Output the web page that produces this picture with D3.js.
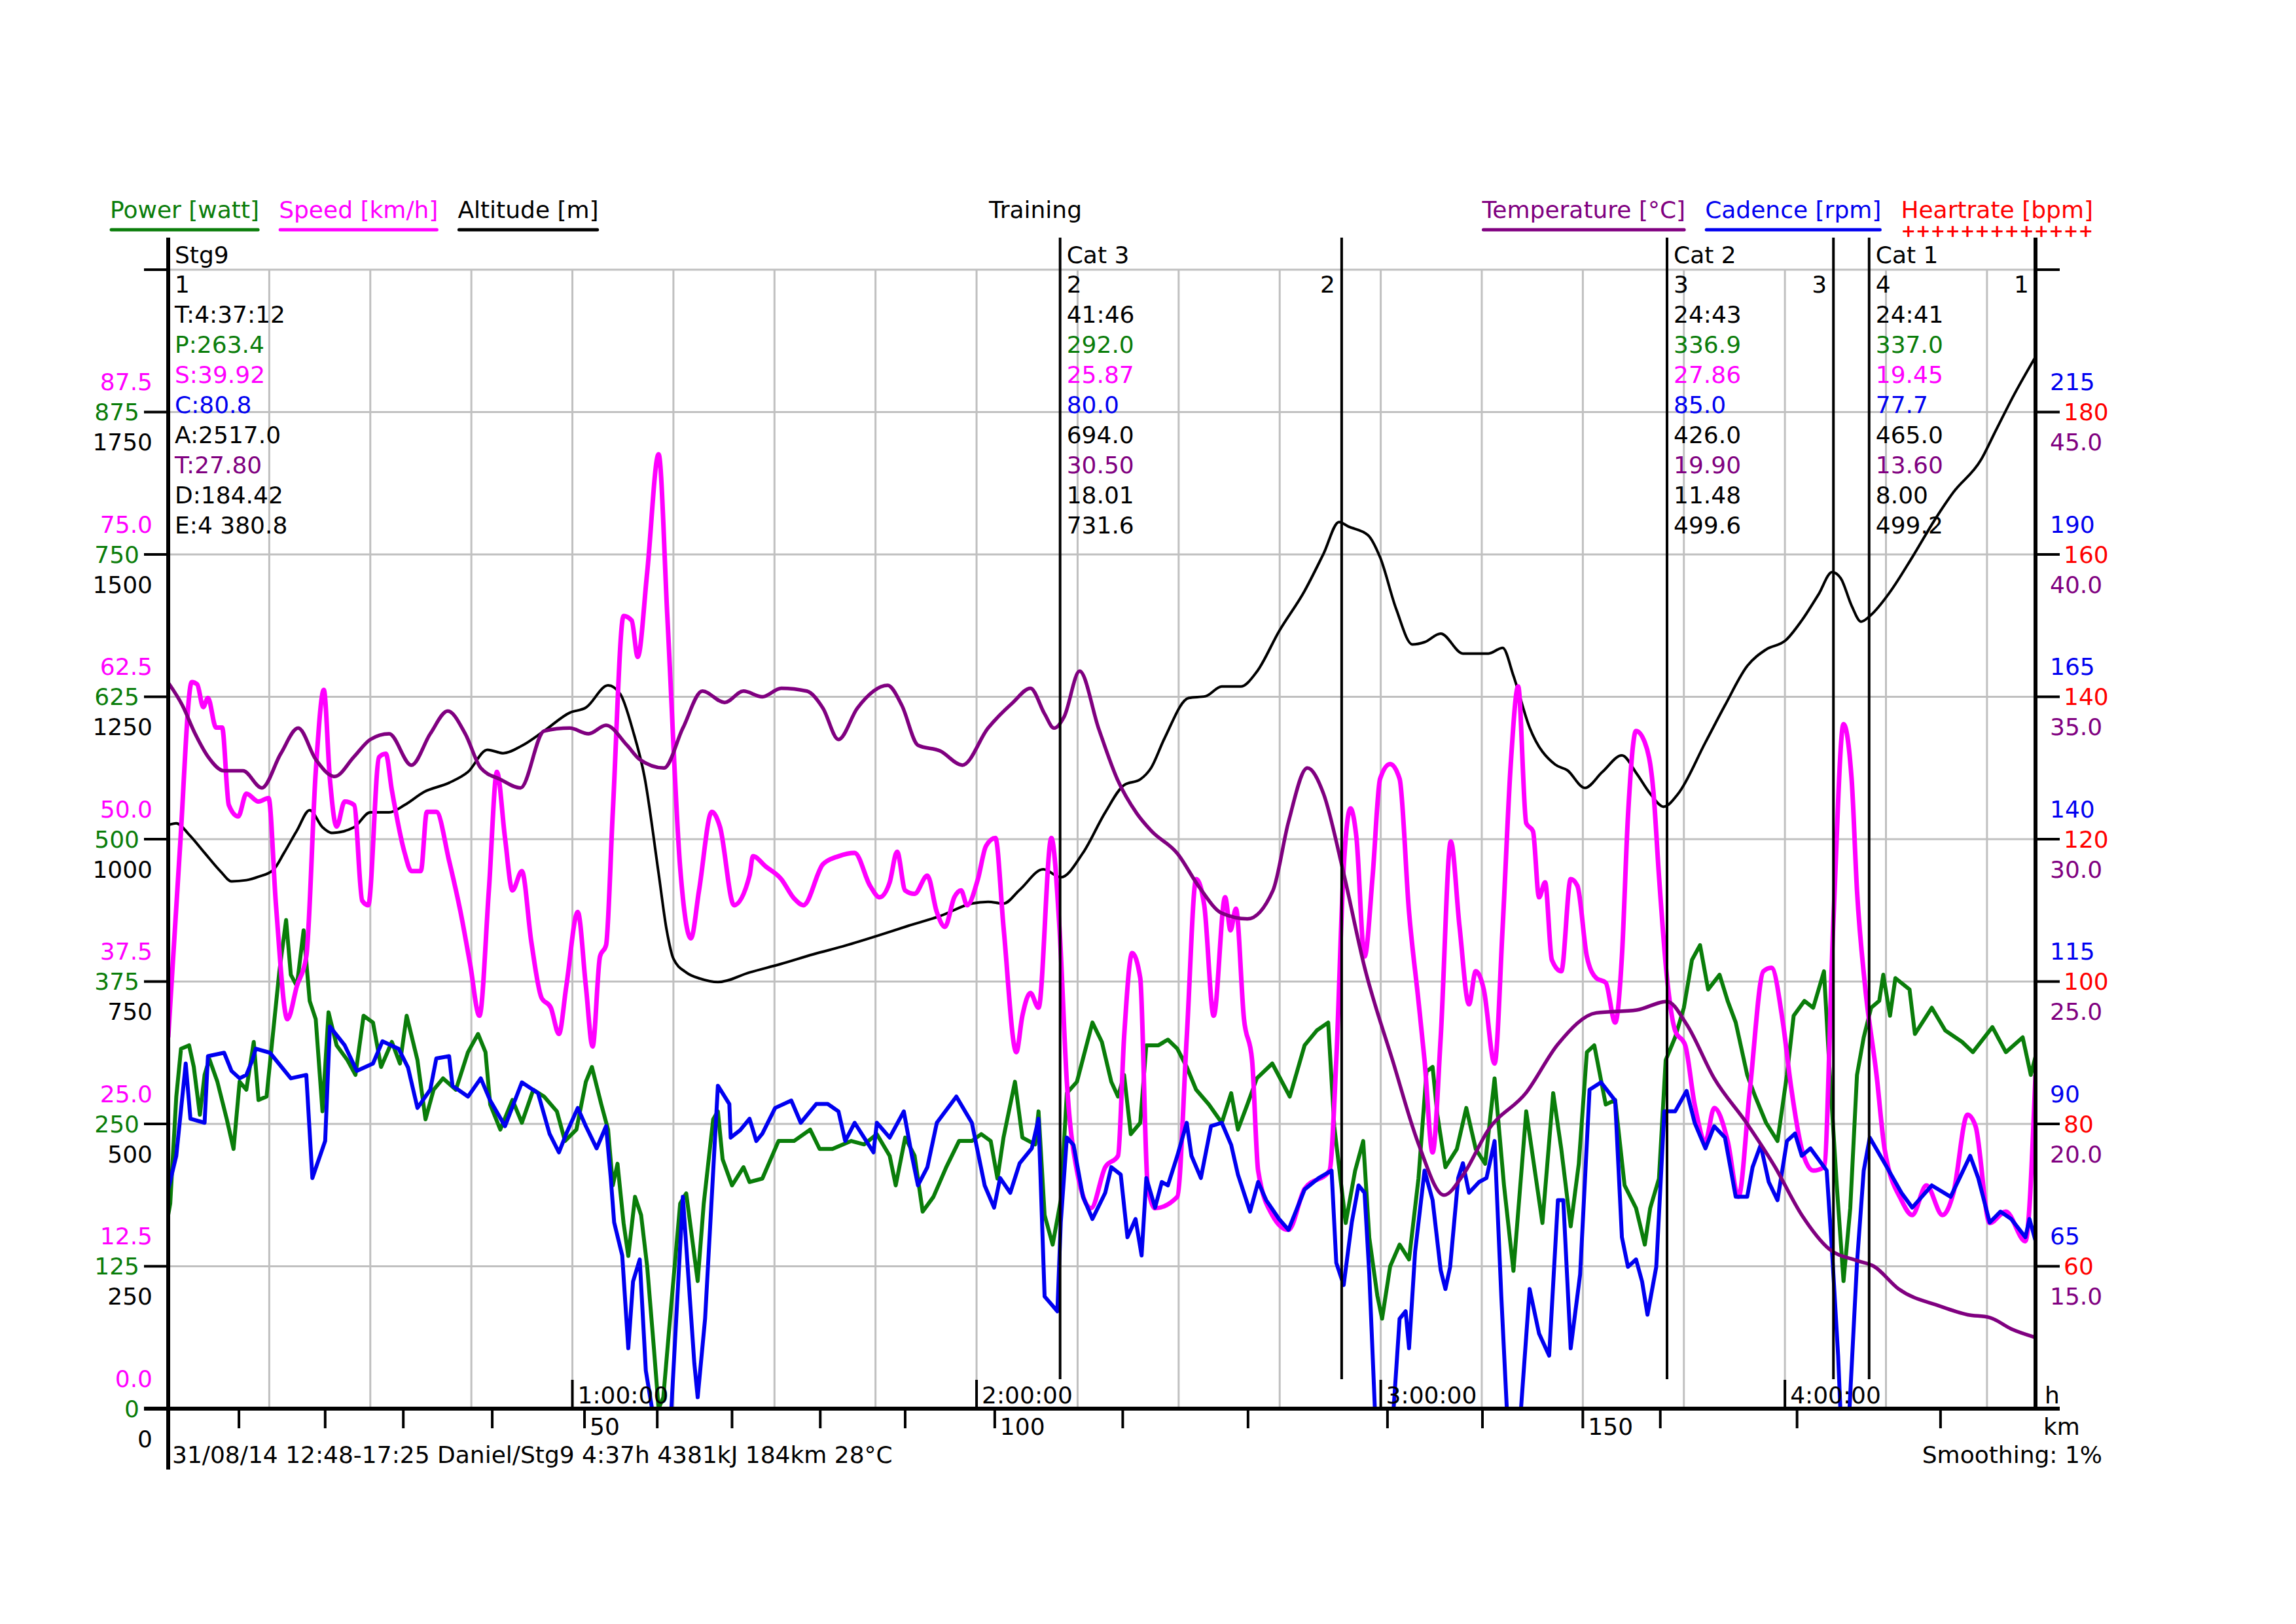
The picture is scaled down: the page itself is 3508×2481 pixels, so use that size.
<!DOCTYPE html>
<html>
<head>
<meta charset="utf-8">
<script src="https://cdn.jsdelivr.net/npm/d3@7"></script>
<style>body{margin:0;background:#fff}</style>
</head>
<body>
<script>
// ---- data (minutes from start, value) ----
const totalMinutes = 277.2;

const altitude = [[0,1025],[1.2,1028],[3.1,1008],[5.4,976],[7.8,943],[9.4,926],[11.6,928],[13.4,934],[15.6,946],[17.2,976],[19.1,1015],[21,1051],[22.9,1021],[24.3,1011],[27.6,1021],[30,1047],[32.8,1047],[35.1,1060],[38,1083],[41.7,1099],[44.5,1118],[47.4,1157],[49.7,1151],[52.5,1164],[55.8,1190],[59.6,1222],[62,1231],[65.3,1270],[67.1,1255],[69,1190],[70.7,1110],[72.8,940],[74,840],[75,790],[76.9,766],[79,755],[81.6,749],[86.3,766],[91,781],[95.8,798],[100.5,813],[105.2,830],[109.9,848],[114.6,865],[119.3,887],[121.7,890],[124,887],[126.4,911],[129.9,947],[132.5,933],[135.8,976],[139.1,1047],[141.9,1095],[144.3,1105],[145.9,1125],[147.9,1177],[151.5,1248],[154,1251],[156.4,1268],[159.2,1268],[161.6,1294],[164.9,1365],[168.7,1436],[171.5,1501],[173.8,1557],[175.2,1549],[178.1,1534],[179.9,1495],[182.3,1404],[184.7,1342],[186.5,1346],[188.9,1361],[192.2,1326],[196,1326],[198.1,1336],[199.7,1287],[202.1,1196],[205.9,1131],[207.7,1121],[210.3,1090],[212.9,1118],[215.8,1147],[218,1115],[220,1080],[222,1057],[224.1,1079],[228.2,1170],[231.1,1235],[234.4,1304],[237.2,1333],[240.1,1349],[242.5,1384],[245,1430],[247,1469],[248.3,1458],[249.9,1410],[251.3,1382],[252.8,1394],[255.6,1434],[258.9,1495],[262.2,1560],[265,1609],[269.1,1666],[271.2,1715],[274,1780],[277.2,1847]];

const temperature = [[0,35.5],[2.1,34.7],[4,33.7],[5.9,32.9],[8.3,32.4],[11.1,32.4],[13.9,31.8],[16.7,33.0],[19.3,33.9],[21.9,32.8],[24.7,32.2],[27.6,32.9],[30,33.5],[32.8,33.7],[36.1,32.6],[38.9,33.7],[41.5,34.5],[44.1,33.7],[46.4,32.5],[49.3,32.1],[52.3,31.8],[55.8,33.8],[59.6,33.9],[62.4,33.7],[65,34.0],[68.1,33.3],[70,32.8],[73.6,32.5],[76.4,33.9],[79.3,35.2],[82.6,34.8],[85.4,35.2],[88.2,35.0],[91,35.3],[94.8,35.2],[97.2,34.6],[99.5,33.5],[102.3,34.6],[106.8,35.4],[108.9,34.7],[111.3,33.3],[114.6,33.1],[117.9,32.6],[121.7,33.9],[125.4,34.8],[128,35.3],[130.1,34.4],[131.5,33.9],[133,34.3],[135.3,35.9],[138.1,33.9],[140.9,32.1],[143.8,30.9],[145.9,30.3],[149.8,29.5],[153.1,28.3],[156.4,27.4],[160.2,27.2],[164,28.2],[166.3,30.6],[169.1,32.5],[171.5,31.6],[174.3,29.0],[177.6,25.5],[181.8,22.2],[185.6,19.3],[189.4,17.5],[192.2,18.2],[196,19.8],[201.6,21.1],[206.3,22.8],[212,23.9],[218,24.0],[222.5,24.3],[225.4,23.5],[229.5,21.6],[234.4,20.0],[238.5,18.5],[242.5,16.8],[246.6,15.6],[250.7,15.2],[253.2,15.0],[256.9,14.2],[263,13.6],[267.1,13.3],[270.4,13.2],[273.6,12.8],[277.2,12.5]];

const speed = [[0,32.6],[1.7,48.8],[3.5,63.8],[4.3,63.6],[5.2,61.6],[5.9,62.4],[7.1,59.8],[8,59.8],[9,53],[10.4,52],[11.6,54],[13.4,53.3],[14.9,53.6],[16,44.2],[17.7,34.2],[19.1,37.1],[20.5,39.7],[21.9,55.9],[23.1,63.1],[24,55.3],[25,51.1],[26.2,53.3],[27.6,53],[28.8,44.6],[29.7,44.2],[31.3,57.2],[32.3,57.5],[33.2,54.3],[35.1,48.8],[36.1,47.2],[37.5,47.2],[38.4,52.4],[39.8,52.4],[41.7,48.1],[43.4,43.6],[44.8,39.1],[46.2,34.5],[47.6,45.5],[48.8,55.9],[50,50.1],[51.1,45.5],[52.5,47.2],[53.9,41],[55.4,36.1],[56.8,35.2],[58,32.9],[59.1,37.1],[60.8,43.6],[62,37.1],[63,31.8],[64.1,39.7],[65,40.7],[66,52.4],[67.6,69.6],[68.8,69.2],[69.7,66],[71.1,73.4],[72.8,83.8],[74.1,69.5],[76,47.5],[77.6,41.3],[78.8,45.5],[80.7,52.4],[81.9,51.1],[84,44.2],[86.3,46.8],[86.8,48.5],[88.7,47.6],[91,46.5],[92.9,44.8],[94.3,44.2],[97.2,47.8],[99.5,48.5],[101.9,48.8],[104.2,45.9],[105.6,44.9],[107.1,46.2],[108.2,48.9],[109.4,45.5],[110.8,45.2],[112.7,46.8],[114.1,43.6],[115.3,42.3],[116.7,44.9],[117.7,45.5],[118.6,44.2],[120.2,46.5],[121.4,49.4],[122.8,50.1],[124,42.3],[125.9,31.3],[126.8,34.5],[128,36.5],[129.2,35.2],[131.1,50.1],[132.3,42.3],[133.4,28.7],[134.9,20.9],[137,17.6],[139.1,21.2],[141,22.2],[141.9,32.6],[143.1,40],[144.3,37.8],[145.4,19.6],[146.5,17.6],[149.8,18.6],[151.2,32.6],[152.6,46.5],[153.8,44.2],[155.2,34.5],[156.9,44.9],[157.7,42],[158.5,43.9],[159.7,34.2],[160.9,30.6],[161.8,20.9],[163.9,17],[166.3,15.7],[168.7,19.3],[172.4,20.9],[173.4,30.6],[174.5,47.5],[175.5,52.7],[176.4,50.1],[177.6,39.7],[178.8,46.8],[179.9,55.3],[181.4,56.6],[182.8,55.3],[184.2,43.6],[185.6,35.8],[186.5,30.6],[187.7,22.5],[188.9,32.6],[190.4,49.8],[191.7,42.3],[193.1,35.5],[194.1,38.4],[195.3,36.8],[196.9,30.3],[198.1,42.3],[199.3,56.6],[200.4,63.4],[201.6,51.4],[202.6,50.7],[203.5,44.9],[204.4,46.2],[205.4,39.4],[206.8,38.4],[208.2,46.5],[209.2,45.9],[210.6,39.7],[212,37.8],[213.4,37.4],[214.8,33.9],[215.8,39.7],[216.7,52],[217.9,59.5],[219.2,58.5],[220.5,54],[221.3,46.8],[222.5,37.8],[223.7,33.2],[225.2,31.9],[226.6,26.7],[228.2,23.5],[229.5,26.4],[231.5,23.5],[233.1,18.6],[234.8,28],[236.8,38.4],[238,38.7],[239.7,33.9],[240.9,28.3],[242.5,22.8],[244.2,20.9],[245.8,21.2],[247.2,42.9],[248.7,60.1],[249.9,55.3],[250.7,45.5],[251.9,37.1],[253.6,29.3],[254.8,22.8],[257.3,18.3],[258.9,17],[261,19.6],[263.4,17],[265,18.9],[267.1,25.8],[268.3,24.8],[270.4,16.3],[272.8,17.3],[275.7,14.7],[277.2,29.3]];

const cadence = [[0,78.5],[1.2,84.4],[2.6,100.6],[3.3,90.9],[5.4,90.2],[5.9,101.9],[8.3,102.5],[9.4,99.3],[10.6,98],[11.6,98.6],[12.5,101.2],[13,103.2],[15.1,102.5],[18.2,98],[20.5,98.6],[21.4,80.5],[23.3,87],[24,107.1],[26.2,103.8],[28,99.3],[30.4,100.6],[31.8,104.5],[34.2,103.2],[35.6,99.9],[37,92.8],[38.9,96],[39.8,101.5],[41.7,101.9],[42.2,96.7],[44.5,94.8],[46.4,98],[47.8,94.1],[50,89.6],[52.5,97.3],[54.9,95.4],[56.6,88.3],[58,85],[59.1,88.3],[60.8,92.8],[62,89.6],[63.6,85.7],[65,89.6],[65.7,80.5],[66.2,72.7],[67.4,66.9],[68.3,50.6],[69,62.3],[70,66.2],[70.9,46.7],[72.1,38],[74.6,38],[76.4,77.2],[78.1,48],[78.6,42],[79.7,55.8],[81.6,96.7],[83.3,93.5],[83.5,87.6],[84.9,88.9],[86.3,90.9],[87.3,87],[88.2,88.3],[90.1,92.8],[92.5,94.1],[93.9,90.2],[96.2,93.5],[97.9,93.5],[99.5,92.2],[100.5,87],[101.9,90.2],[103.3,87.6],[104.7,85],[105.2,90.2],[107.1,87.6],[109.2,92.2],[110.4,84.4],[111.3,79.2],[112.7,82.4],[114.1,90.2],[117,94.8],[119.3,90.2],[121.2,79.2],[122.6,75.3],[123.5,80.5],[125,77.9],[126.4,83.1],[128.2,85.7],[129.2,90.9],[130.1,59.7],[132,57.1],[132.5,72.7],[133.4,87.6],[134.4,86.3],[135.8,77.2],[137.2,73.3],[139.1,77.9],[140,82.4],[141.4,81.1],[142.4,70.1],[143.6,73.3],[144.5,66.9],[145.2,80.5],[146.5,75.3],[147.5,79.8],[148.4,79.2],[149.8,84.4],[151.2,90.2],[151.9,84.4],[153.3,80.5],[154.8,89.6],[156.4,90.2],[157.8,86.3],[158.8,81.1],[160.6,74.6],[161.8,79.8],[163,76.6],[164.9,73.3],[166.3,71.4],[168.7,78.5],[170.8,80.5],[172.7,81.8],[173.4,65.6],[174.5,61.7],[175.7,72.7],[176.7,79.2],[177.6,77.9],[178.3,63.6],[179.2,38],[181.8,38],[182.8,55.8],[183.7,57.1],[184.2,50.6],[185.1,67.5],[186.5,81.8],[187.7,76.6],[188.9,64.3],[189.6,61],[190.3,64.9],[191.5,80.5],[192.2,83.1],[193.1,77.9],[194.6,79.8],[195.7,80.5],[196.9,87],[197.9,59.7],[198.8,38],[200.7,38],[202.1,61],[203.5,53.2],[205,49.3],[206.3,76.6],[207.1,76.6],[208.2,50.6],[209.6,63.6],[211,96],[212.7,97.3],[214.8,94.1],[215.8,70.1],[216.7,64.9],[217.9,66.2],[218.8,62.3],[219.6,56.5],[220.9,64.9],[222.1,92.2],[223.7,92.2],[225.4,95.8],[226.6,90.2],[228.2,85.7],[229.5,89.6],[231.1,87.6],[232.7,77.2],[234.4,77.2],[235.2,82.4],[236.4,86.3],[237.6,79.8],[238.9,76.6],[240.3,87],[241.5,88.3],[242.5,84.4],[243.8,85.7],[246.2,81.8],[247,67.5],[247.9,49.3],[248.3,38],[249.5,38],[250.7,65.6],[251.7,81.8],[252.6,87.6],[254.8,83.1],[257.3,77.9],[258.9,75.3],[261.8,79.2],[264.6,77.2],[267.5,84.4],[268.7,80.5],[270.4,72.7],[272,74.6],[273.6,73.3],[275.7,70.1],[276.3,73.3],[277.2,69.5]];

const power = [[0,170],[0.3,180],[1.2,274],[1.9,316],[3.1,319],[3.8,300],[4.7,258],[5.4,293],[6.1,307],[7.3,287],[8.7,254],[9.7,228],[10.6,287],[11.6,280],[12.7,322],[13.4,271],[14.6,274],[15.6,332],[16.5,384],[17.5,429],[18.2,381],[19.1,371],[20.1,420],[21,358],[21.9,342],[22.9,261],[23.8,348],[25,319],[26.6,306],[27.8,293],[29,345],[30.4,339],[31.6,300],[33.2,322],[34.4,303],[35.4,345],[37,306],[38.2,254],[39.4,280],[40.8,290],[42.7,280],[44.5,313],[46,329],[47.1,313],[47.8,267],[49.3,245],[51.1,271],[52.5,251],[54.2,280],[55.8,274],[57.7,261],[58.9,235],[60.6,245],[62,287],[62.9,300],[64.3,267],[65.3,245],[66,196],[66.7,215],[67.6,163],[68.3,134],[69.3,186],[70.2,170],[71.1,125],[72.1,53],[72.8,0],[73.5,10],[74.6,86],[76,180],[76.9,189],[78.6,112],[79.5,180],[80.9,254],[81.6,261],[82.3,219],[83.7,196],[85.4,212],[86.3,199],[88.2,202],[90.6,235],[92.9,235],[95.3,245],[96.7,228],[98.6,228],[101.4,235],[103.3,232],[105.2,241],[107.1,222],[108,196],[109.4,238],[110.8,222],[112,173],[113.6,186],[115.5,212],[117.4,235],[119.3,235],[120.7,241],[122.1,235],[123.1,202],[124,238],[125.7,287],[126.8,238],[128.7,232],[129.2,261],[130.1,170],[131.3,144],[132.5,183],[133.4,277],[134.9,287],[137.2,339],[138.6,322],[140,287],[141,274],[141.9,293],[142.9,241],[144.3,251],[145.2,319],[147,319],[148.4,324],[149.8,316],[151.2,300],[152.6,280],[154.5,267],[156.4,251],[157.8,277],[158.8,245],[160.2,267],[161.6,290],[163.9,303],[166.5,274],[168.7,319],[170.5,332],[172.2,339],[173.1,248],[174.8,163],[176.2,209],[177.4,235],[178.3,150],[179.5,99],[180.2,79],[181.4,125],[182.8,144],[184.2,131],[185.6,202],[186.8,296],[187.7,300],[188.4,258],[189.6,212],[191.3,228],[192.7,264],[194.1,228],[195.5,215],[196.9,290],[198.3,196],[199.7,121],[201.6,261],[204,163],[205.6,277],[206.8,228],[208.2,160],[209.4,215],[210.6,313],[211.7,319],[213.4,267],[214.8,271],[216.2,196],[217.9,176],[219.2,144],[220,176],[221.3,202],[222.3,306],[223.7,326],[225,352],[226.2,394],[227.4,407],[228.6,368],[230.3,381],[231.5,358],[232.7,339],[234.4,293],[235.6,274],[237.2,251],[238.9,235],[240.3,293],[241.3,345],[242.9,358],[244.2,352],[245.8,384],[246.6,300],[247.7,196],[248.7,112],[249.7,176],[250.7,293],[251.7,326],[252.8,352],[254,358],[254.6,381],[255.6,345],[256.4,378],[258.5,368],[259.3,329],[261.8,352],[263.8,332],[266.3,322],[267.9,313],[270.8,335],[272.8,313],[275.3,326],[276.5,293],[277.2,309]];

// axis tick labels
const powerTicks = [0,125,250,375,500,625,750,875];
const speedTicks = [0,12.5,25,37.5,50,62.5,75,87.5];
const altTicks = [0,250,500,750,1000,1250,1500,1750];
const cadenceTicks = [65,90,115,140,165,190,215];
const hrTicks = [60,80,100,120,140,160,180];
const tempTicks = [15,20,25,30,35,40,45];

const timeTicks = [60,120,180,240];
const timeLabels = ["1:00:00","2:00:00","3:00:00","4:00:00"];
const kmValues = [10,20,30,40,50,60,70,80,90,100,110,120,130,140,150,160,170,180];
const kmMinutes = [10.5,23.3,34.9,48.1,61.8,72.6,83.7,96.8,109.4,122.7,141.7,160.3,181.0,195.1,210.0,221.5,241.8,263.1];
const kmLabelled = [50,100,150];

// laps: start minute, end minute, name, stats
const lapStart = [0,132.4,222.5,252.5];
const lapEnd = [277.2,174.2,247.2,277.2];
const lapNames = ["Stg9","Cat 3","Cat 2","Cat 1"];
const lapStats = [
  ["1","T:4:37:12","P:263.4","S:39.92","C:80.8","A:2517.0","T:27.80","D:184.42","E:4 380.8"],
  ["2","41:46","292.0","25.87","80.0","694.0","30.50","18.01","731.6"],
  ["3","24:43","336.9","27.86","85.0","426.0","19.90","11.48","499.6"],
  ["4","24:41","337.0","19.45","77.7","465.0","13.60","8.00","499.2"]
];
const lapEndLabels = ["1","2","3",""];

const cGreen = "#0a7d0a", cMagenta = "#f0f", cBlue = "#0000f0", cPurple = "#800080", cRed = "#f00", cGrid = "#c0c0c0";
const statColors = ["#000","#000",cGreen,cMagenta,cBlue,"#000",cPurple,"#000","#000"];

// ---- layout ----
const W = 3508, H = 2481;
const plotL = 257, plotR = 3110, plotT = 412, plotB = 2152;
const fs = 36, lh = 46;

const svg = d3.select("body").append("svg")
  .attr("width", W).attr("height", H)
  .style("background-color", "#fff")
  .attr("font-family", "DejaVu Sans")
  .attr("font-size", fs);

const x = d3.scaleLinear().domain([0, totalMinutes]).range([plotL, plotR]);
const yPower = d3.scaleLinear().domain([0, 1000]).range([plotB, plotT]);
const ySpeed = d3.scaleLinear().domain([0, 100]).range([plotB, plotT]);
const yAlt = d3.scaleLinear().domain([0, 2000]).range([plotB, plotT]);
const yCad = d3.scaleLinear().domain([40, 240]).range([plotB, plotT]);
const yHr = d3.scaleLinear().domain([40, 200]).range([plotB, plotT]);
const yTemp = d3.scaleLinear().domain([10, 50]).range([plotB, plotT]);

// gridlines
const hGrid = [125,250,375,500,625,750,875,1000];
svg.append("g").selectAll("line").data(hGrid).enter().append("line")
  .attr("x1", plotL).attr("x2", plotR)
  .attr("y1", d => yPower(d)).attr("y2", d => yPower(d))
  .attr("stroke", cGrid).attr("stroke-width", 3);

svg.append("g").selectAll("line").data(d3.range(15, totalMinutes, 15)).enter().append("line")
  .attr("x1", d => x(d)).attr("x2", d => x(d))
  .attr("y1", plotT).attr("y2", plotB)
  .attr("stroke", cGrid).attr("stroke-width", 3);

// clip
svg.append("clipPath").attr("id", "plot")
  .append("rect").attr("x", plotL).attr("y", plotT - 30).attr("width", plotR - plotL).attr("height", plotB - plotT + 30);

const series = [
  {data: altitude, y: yAlt, color: "#000", w: 4, curve: d3.curveMonotoneX},
  {data: power, y: yPower, color: cGreen, w: 6, curve: d3.curveLinear},
  {data: speed, y: ySpeed, color: cMagenta, w: 7, curve: d3.curveMonotoneX},
  {data: cadence, y: yCad, color: cBlue, w: 6, curve: d3.curveLinear},
  {data: temperature, y: yTemp, color: cPurple, w: 5.5, curve: d3.curveMonotoneX}
];
const gLines = svg.append("g").attr("clip-path", "url(#plot)");
series.forEach(s => {
  const line = d3.line().x(d => x(d[0])).y(d => s.y(d[1])).curve(s.curve);
  gLines.append("path")
    .attr("d", line(s.data))
    .attr("fill", "none")
    .attr("stroke", s.color)
    .attr("stroke-width", s.w)
    .attr("stroke-linejoin", "round");
});

// lap lines
const lapTop = 363, lapBottom = 2107;
lapStart.concat(lapEnd).forEach(t => {
  if (t <= 0 || t >= totalMinutes) return;
  svg.append("line").attr("x1", x(t)).attr("x2", x(t)).attr("y1", lapTop).attr("y2", lapBottom)
    .attr("stroke", "#000").attr("stroke-width", 4);
});

// lap texts
lapStart.forEach((t, i) => {
  const tx = x(t) + 10;
  svg.append("text").attr("x", tx).attr("y", 402).text(lapNames[i]);
  lapStats[i].forEach((s, j) => {
    svg.append("text").attr("x", tx).attr("y", 447 + j * lh)
      .attr("fill", statColors[j]).text(s);
  });
});
lapEnd.forEach((t, i) => {
  if (!lapEndLabels[i]) return;
  svg.append("text").attr("x", x(t) - 10).attr("y", 447)
    .attr("text-anchor", "end").text(lapEndLabels[i]);
});

// axes lines
svg.append("line").attr("x1", plotL).attr("x2", plotL).attr("y1", lapTop).attr("y2", 2245)
  .attr("stroke", "#000").attr("stroke-width", 6);
svg.append("line").attr("x1", plotR).attr("x2", plotR).attr("y1", lapTop).attr("y2", plotB)
  .attr("stroke", "#000").attr("stroke-width", 6);
svg.append("line").attr("x1", plotL - 37).attr("x2", plotR + 37).attr("y1", plotB).attr("y2", plotB)
  .attr("stroke", "#000").attr("stroke-width", 6);

// ticks
svg.append("g").selectAll("line").data(hGrid).enter().append("line")
  .attr("x1", plotL - 37).attr("x2", plotL).attr("y1", d => yPower(d)).attr("y2", d => yPower(d))
  .attr("stroke", "#000").attr("stroke-width", 4);
svg.append("g").selectAll("line").data(hGrid).enter().append("line")
  .attr("x1", plotR).attr("x2", plotR + 37).attr("y1", d => yPower(d)).attr("y2", d => yPower(d))
  .attr("stroke", "#000").attr("stroke-width", 4);

const lab = (g, data, xpos, ypos, anchor, color, fmt) => {
  g.selectAll(null).data(data).enter().append("text")
    .attr("x", xpos).attr("y", ypos).attr("dy", "0.36em")
    .attr("text-anchor", anchor).attr("fill", color).text(fmt);
};
const gl = svg.append("g");
lab(gl, powerTicks, plotL - 44, d => yPower(d), "end", cGreen, d => d);
lab(gl, speedTicks, plotL - 24, d => ySpeed(d) - lh, "end", cMagenta, d => d.toFixed(1));
lab(gl, altTicks, plotL - 24, d => yAlt(d) + lh, "end", "#000", d => d);
const gr = svg.append("g");
lab(gr, hrTicks, plotR + 43, d => yHr(d), "start", cRed, d => d);
lab(gr, cadenceTicks, plotR + 22, d => yCad(d) - lh, "start", cBlue, d => d);
lab(gr, tempTicks, plotR + 22, d => yTemp(d) + lh, "start", cPurple, d => d.toFixed(1));

// time ticks
svg.append("g").selectAll("line").data(timeTicks).enter().append("line")
  .attr("x1", d => x(d)).attr("x2", d => x(d)).attr("y1", plotB - 44).attr("y2", plotB)
  .attr("stroke", "#000").attr("stroke-width", 4);
svg.append("g").selectAll("text").data(timeTicks).enter().append("text")
  .attr("x", d => x(d) + 8).attr("y", plotB - 8).text((d, i) => timeLabels[i]);
svg.append("text").attr("x", plotR + 14).attr("y", plotB - 8).text("h");

// km ticks
svg.append("g").selectAll("line").data(kmMinutes).enter().append("line")
  .attr("x1", d => x(d)).attr("x2", d => x(d)).attr("y1", plotB).attr("y2", plotB + 30)
  .attr("stroke", "#000").attr("stroke-width", 4);
svg.append("g").selectAll("text").data(kmValues.filter(k => kmLabelled.includes(k))).enter().append("text")
  .attr("x", d => x(kmMinutes[kmValues.indexOf(d)]) + 8).attr("y", plotB + 40).text(d => d);
svg.append("text").attr("x", plotR + 12).attr("y", plotB + 40).text("km");

// footer
svg.append("text").attr("x", plotL + 6).attr("y", 2235)
  .text("31/08/14 12:48-17:25 Daniel/Stg9 4:37h 4381kJ 184km 28°C");
svg.append("text").attr("x", 3212).attr("y", 2235).attr("text-anchor", "end").text("Smoothing: 1%");

// header legend
const headY = 333, underY = 351;
let hx = 168;
[["Power [watt]", cGreen], ["Speed [km/h]", cMagenta], ["Altitude [m]", "#000"]].forEach(([t, c]) => {
  const el = svg.append("text").attr("x", hx).attr("y", headY).attr("fill", c).text(t);
  const w = el.node().getComputedTextLength();
  svg.append("line").attr("x1", hx + 2).attr("x2", hx + w - 2).attr("y1", underY).attr("y2", underY)
    .attr("stroke", c).attr("stroke-width", 5).attr("stroke-linecap", "round");
  hx += w + 30;
});
svg.append("text").attr("x", 1582).attr("y", headY).attr("text-anchor", "middle").text("Training");

let rx = 3198;
[["Heartrate [bpm]", cRed], ["Cadence [rpm]", cBlue], ["Temperature [°C]", cPurple]].forEach(([t, c], i) => {
  const el = svg.append("text").attr("x", rx).attr("y", headY).attr("text-anchor", "end").attr("fill", c).text(t);
  const w = el.node().getComputedTextLength();
  if (i === 0) {
    svg.append("text").attr("x", rx - w).attr("y", 362)
      .attr("fill", c).attr("font-size", 26).attr("font-weight", "bold")
      .attr("textLength", w).attr("lengthAdjust", "spacingAndGlyphs")
      .text("+++++++++++++");
  } else {
    svg.append("line").attr("x1", rx - w + 2).attr("x2", rx - 2).attr("y1", underY).attr("y2", underY)
      .attr("stroke", c).attr("stroke-width", 5).attr("stroke-linecap", "round");
  }
  rx -= w + 30;
});
</script>
</body>
</html>
